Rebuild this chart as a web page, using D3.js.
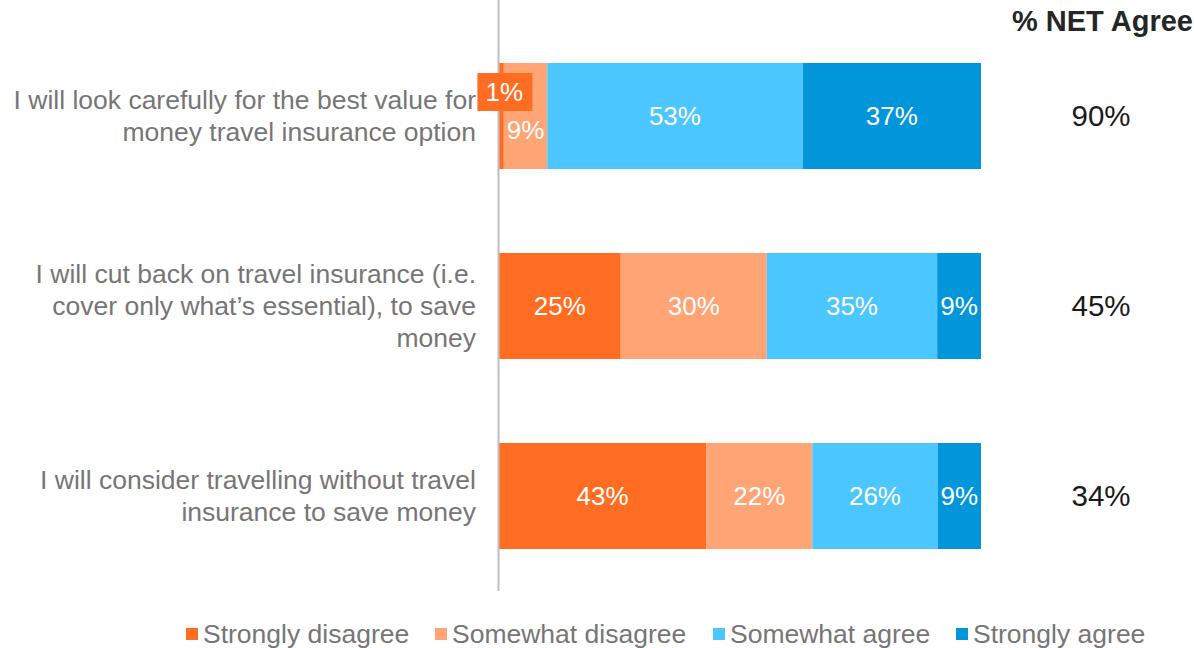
<!DOCTYPE html>
<html>
<head>
<meta charset="utf-8">
<script src="https://cdn.jsdelivr.net/npm/d3@7"></script>
<style>
  html, body { margin: 0; padding: 0; background: #fff; }
  svg { display: block; font-family: "Liberation Sans", Arial, sans-serif; }
</style>
</head>
<body>
<svg id="chart" width="1194" height="648"></svg>
<script>
// Statements shown on the left
const statements = [
  ["I will look carefully for the best value for", "money travel insurance option"],
  ["I will cut back on travel insurance (i.e.", "cover only what\u2019s essential), to save", "money"],
  ["I will consider travelling without travel", "insurance to save money"]
];
const seriesNames = ["Strongly disagree", "Somewhat disagree", "Somewhat agree", "Strongly agree"];
const seriesColors = ["#FF6D22", "#FFA474", "#4CC6FF", "#0096D9"];
const stronglyDisagree = [1, 25, 43];
const somewhatDisagree = [9, 30, 22];
const somewhatAgree = [53, 35, 26];
const stronglyAgree = [37, 9, 9];
const netAgree = [90, 45, 34];

const rows = statements.map((s, i) => ({
  idx: i,
  "Strongly disagree": stronglyDisagree[i],
  "Somewhat disagree": somewhatDisagree[i],
  "Somewhat agree": somewhatAgree[i],
  "Strongly agree": stronglyAgree[i]
}));

const svg = d3.select("#chart");
const x0 = 499, x1 = 981;

const x = d3.scaleLinear().domain([0, 1]).range([x0, x1]);
const y = d3.scaleBand().domain(rows.map(r => r.idx)).range([21, 591]).paddingInner(0.442).paddingOuter(0.221);

const stack = d3.stack().keys(seriesNames).offset(d3.stackOffsetExpand);
const layers = stack(rows);

const gBars = svg.append("g");
layers.forEach((layer, k) => {
  gBars.selectAll(null).data(layer).enter().append("rect")
    .attr("x", d => x(d[0]))
    .attr("y", d => y(d.data.idx))
    .attr("width", d => x(d[1]) - x(d[0]))
    .attr("height", y.bandwidth())
    .attr("fill", seriesColors[k]);
});

// Vertical baseline
svg.append("line")
  .attr("x1", x0 - 0.5).attr("x2", x0 - 0.5)
  .attr("y1", 0).attr("y2", 591)
  .attr("stroke", "#BFBFBF").attr("stroke-width", 2);

// Value labels inside segments
const gLab = svg.append("g").attr("font-size", 26).attr("fill", "#fff").attr("text-anchor", "middle");
layers.forEach((layer, k) => {
  layer.forEach(d => {
    const v = d.data[seriesNames[k]];
    let cx = (x(d[0]) + x(d[1])) / 2;
    let cy = y(d.data.idx) + y.bandwidth() / 2;
    const small = v < 3;
    if (d.data.idx === 0 && k === 1) cy += 14;
    if (small) {
      cy -= 24;
      cx += 3;
      gLab.append("rect")
        .attr("x", cx - 27).attr("y", cy - 19)
        .attr("width", 55).attr("height", 38)
        .attr("fill", seriesColors[k]);
    }
    gLab.append("text")
      .attr("x", cx).attr("y", cy)
      .attr("dy", "0.35em")
      .text(v + "%");
  });
});

// Statement labels
const gCat = svg.append("g").attr("font-size", 26.5).attr("fill", "#767676").attr("text-anchor", "end");
statements.forEach((lines, i) => {
  const cy = y(i) + y.bandwidth() / 2;
  const lh = 32;
  const start = cy - (lines.length - 1) * lh / 2;
  lines.forEach((ln, j) => {
    gCat.append("text")
      .attr("x", 476).attr("y", start + j * lh)
      .attr("dy", "0.35em")
      .text(ln);
  });
});

// NET agree column
svg.append("text")
  .attr("x", 1193).attr("y", 21).attr("dy", "0.35em")
  .attr("text-anchor", "end")
  .attr("font-size", 29).attr("font-weight", "bold").attr("fill", "#262626")
  .text("% NET Agree");
svg.append("g").selectAll("text").data(netAgree).enter().append("text")
  .attr("x", 1101).attr("y", (d, i) => y(i) + y.bandwidth() / 2)
  .attr("dy", "0.35em").attr("text-anchor", "middle")
  .attr("font-size", 29.5).attr("fill", "#1A1A1A")
  .text(d => d + "%");

// Legend
const legendX = [186, 435, 713, 956];
const gLeg = svg.append("g");
seriesNames.forEach((name, k) => {
  gLeg.append("rect")
    .attr("x", legendX[k]).attr("y", 628)
    .attr("width", 12).attr("height", 12)
    .attr("fill", seriesColors[k]);
  gLeg.append("text")
    .attr("x", legendX[k] + 17).attr("y", 634).attr("dy", "0.35em")
    .attr("font-size", 26.5).attr("fill", "#767676")
    .text(name);
});
</script>
</body>
</html>
